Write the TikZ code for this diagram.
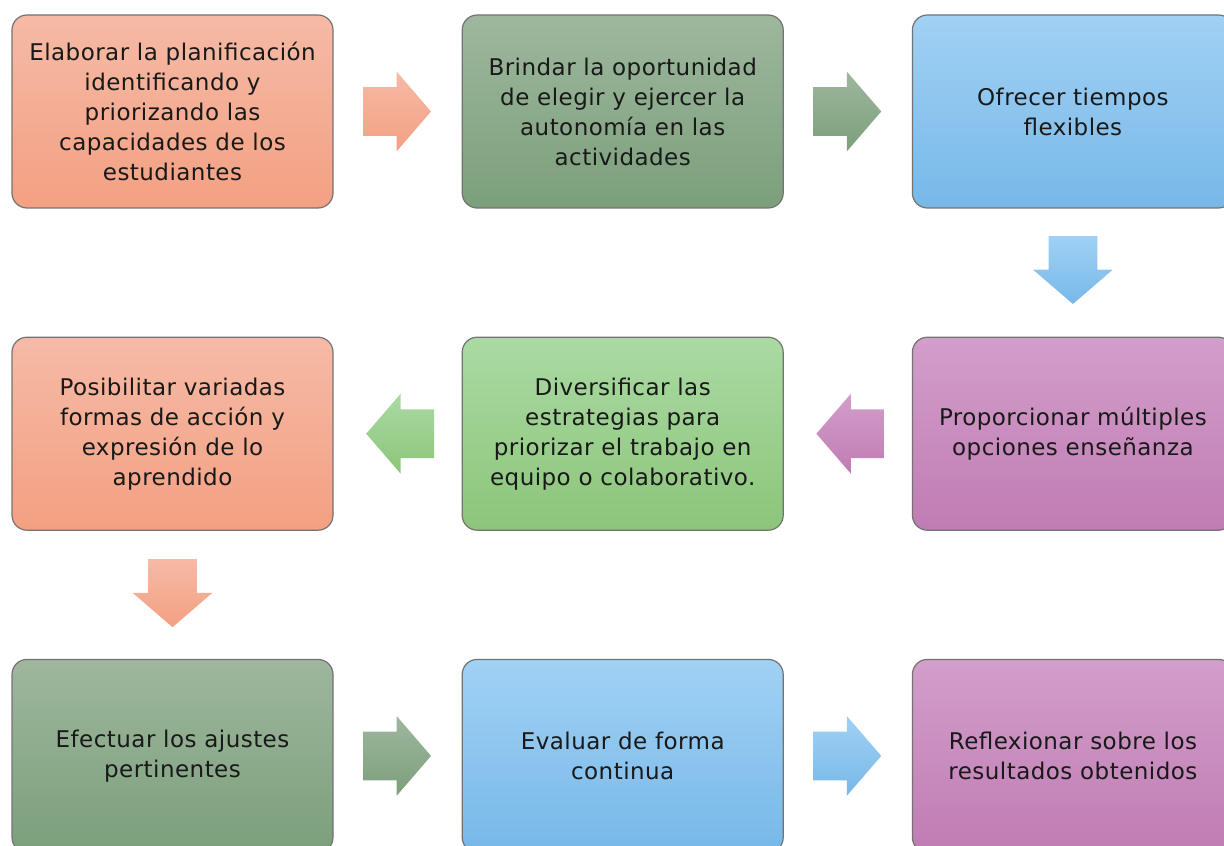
\documentclass[tikz,border=0pt]{standalone}
\usepackage{fontspec}
\setmainfont[LetterSpace=2]{DejaVu Sans}
\usetikzlibrary{shapes,shapes.arrows,positioning,calc}
\definecolor{salmonT}{HTML}{F5BAA6}
\definecolor{salmonB}{HTML}{F4A082}
\definecolor{sageT}{HTML}{9EB79E}
\definecolor{sageB}{HTML}{7B9F7B}
\definecolor{skyT}{HTML}{A1D1F4}
\definecolor{skyB}{HTML}{77B8E8}
\definecolor{plumT}{HTML}{D29ECA}
\definecolor{plumB}{HTML}{C07CB3}
\definecolor{leafT}{HTML}{AADAA3}
\definecolor{leafB}{HTML}{8CC57A}
\tikzset{
    raw plan entry/.style={rectangle, rounded corners=7.5pt, draw=black!55, line width=0.6pt,
        minimum width=160.5pt, minimum height=96.5pt, inner sep=0pt, align=center,
        text=black!90, font=\fontsize{11.5}{15}\selectfont},
    c1/.style={raw plan entry, top color=salmonT, bottom color=salmonB},
    c2/.style={raw plan entry, top color=sageT, bottom color=sageB},
    c3/.style={raw plan entry, top color=skyT, bottom color=skyB},
    c4/.style={raw plan entry, top color=plumT, bottom color=plumB},
    c5/.style={raw plan entry, top color=leafT, bottom color=leafB},
    raw block arrow/.style={single arrow, draw=none, inner xsep=0pt, inner ysep=12pt,
        minimum height=34pt, single arrow head extend=7.75pt, single arrow tip angle=98.5},
    down arrow/.style={shape border rotate=270, inner xsep=12pt, inner ysep=0pt},
    back arrow/.style={shape border rotate=180},
    a1/.style={raw block arrow, top color=salmonT, bottom color=salmonB},
    a2/.style={raw block arrow, top color=sageT, bottom color=sageB},
    a3/.style={raw block arrow, top color=skyT, bottom color=skyB},
    a4/.style={raw block arrow, top color=plumT, bottom color=plumB},
    a5/.style={raw block arrow, top color=leafT, bottom color=leafB}
}
\begin{document}
\begin{tikzpicture}[node distance=64pt]
    \useasboundingbox (0,0) rectangle (612pt,-422.5pt);
    \clip (0,0) rectangle (612pt,-422.5pt);
    % first row
    \node[c1] (elaborar) at (86.25pt,-55.75pt) {Elaborar la planificación\\identificando y\\priorizando las\\capacidades de los\\estudiantes};
    \node[c2, right=of elaborar] (brindar) {Brindar la oportunidad\\de elegir y ejercer la\\autonomía en las\\actividades};
    \node[c3, right=of brindar] (ofrecer) {Ofrecer tiempos\\flexibles};
    % second row
    \node[c4, below=of ofrecer] (proporcionar) {Proporcionar múltiples\\opciones enseñanza};
    \node[c5, left=of proporcionar] (diversificar) {Diversificar las\\estrategias para\\priorizar el trabajo en\\equipo o colaborativo.};
    \node[c1, left=of diversificar] (posibilitar) {Posibilitar variadas\\formas de acción y\\expresión de lo\\aprendido};
    % third row
    \node[c2, below=of posibilitar] (efectuar) {Efectuar los ajustes\\pertinentes};
    \node[c3, right=of efectuar] (evaluar) {Evaluar de forma\\continua};
    \node[c4, right=of evaluar] (reflexionar) {Reflexionar sobre los\\resultados obtenidos};
    % arrows
    \node[a1, right=14.5pt of elaborar.east, anchor=tail] (elab-brin) {};
    \node[a2, right=14.5pt of brindar.east, anchor=tail] (brin-ofre) {};
    \node[a3, down arrow, below=13.5pt of ofrecer.south, anchor=tail] (ofre-prop) {};
    \node[a4, back arrow, left=13.5pt of proporcionar.west, anchor=tail] (prop-dive) {};
    \node[a5, back arrow, left=13.5pt of diversificar.west, anchor=tail] (dive-posi) {};
    \node[a1, down arrow, below=14pt of posibilitar.south, anchor=tail] (posi-efec) {};
    \node[a2, right=14.5pt of efectuar.east, anchor=tail] (efec-eval) {};
    \node[a3, right=14.5pt of evaluar.east, anchor=tail] (eval-refl) {};
\end{tikzpicture}
\end{document}
